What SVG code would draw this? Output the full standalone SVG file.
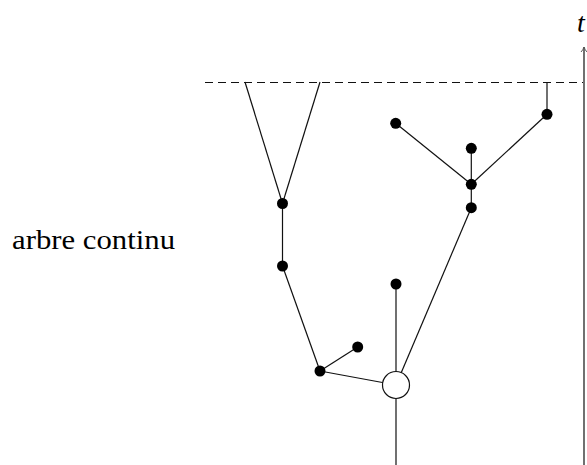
<svg xmlns="http://www.w3.org/2000/svg" width="587" height="465" viewBox="0 0 587 465">
<style>
.e{stroke:#111;stroke-width:1.2;fill:none}
.d{fill:#000}
.lbl{font-family:"Liberation Serif",serif;font-size:27px;fill:#000}
</style>
<defs>
<marker id="ah" markerWidth="10" markerHeight="10" refX="5" refY="1" orient="auto-start-reverse" markerUnits="userSpaceOnUse" viewBox="0 0 10 10">
<path d="M2,5 Q4,3 5,1 Q6,3 8,5" fill="none" stroke="#555" stroke-width="1"/>
</marker>
</defs>
<rect width="587" height="465" fill="#fff"/>
<g id="connectors">
<line class="e" x1="205" y1="82.5" x2="583" y2="82.5" stroke-dasharray="8,5"/>
<line class="e" x1="584" y1="465" x2="584" y2="47" stroke="#666" stroke-width="1.4"/>
<path d="M581,52 Q583,50 584,47 Q585,50 587,52" fill="none" stroke="#555" stroke-width="1"/>
<line class="e" x1="245" y1="82" x2="282.5" y2="203.5"/>
<line class="e" x1="320" y1="82" x2="282.5" y2="203.5"/>
<line class="e" x1="282.5" y1="203.5" x2="282.5" y2="266"/>
<line class="e" x1="282.5" y1="266" x2="320" y2="371"/>
<line class="e" x1="320" y1="371" x2="357.7" y2="347"/>
<line class="e" x1="320" y1="371" x2="396" y2="385"/>
<line class="e" x1="396" y1="284" x2="396" y2="385"/>
<line class="e" x1="396" y1="385" x2="471.3" y2="207.7"/>
<line class="e" x1="396" y1="385" x2="396" y2="465"/>
<line class="e" x1="471.3" y1="207.7" x2="471.3" y2="148.3"/>
<line class="e" x1="471.3" y1="184.3" x2="395.7" y2="123.3"/>
<line class="e" x1="471.3" y1="184.3" x2="547" y2="114.3"/>
<line class="e" x1="547" y1="114.3" x2="547" y2="82"/>
</g>
<g id="n1"><circle class="d" cx="282.5" cy="203.5" r="5.5"/></g>
<g id="n2"><circle class="d" cx="282.5" cy="266" r="5.5"/></g>
<g id="n3"><circle class="d" cx="320" cy="371" r="5.5"/></g>
<g id="n4"><circle class="d" cx="357.7" cy="347" r="5.5"/></g>
<g id="n5"><circle class="d" cx="396" cy="284" r="5.5"/></g>
<g id="root"><circle cx="396" cy="385" r="13.5" fill="#fff" stroke="#111" stroke-width="1.2"/></g>
<g id="n6"><circle class="d" cx="471.3" cy="207.7" r="5.5"/></g>
<g id="n7"><circle class="d" cx="471.3" cy="184.3" r="5.5"/></g>
<g id="n8"><circle class="d" cx="471.3" cy="148.3" r="5.5"/></g>
<g id="n9"><circle class="d" cx="395.7" cy="123.3" r="5.5"/></g>
<g id="n10"><circle class="d" cx="547" cy="114.3" r="5.5"/></g>
<g id="labels">
<text class="lbl" x="12" y="249" textLength="163" lengthAdjust="spacingAndGlyphs">arbre continu</text>
<text x="577" y="32" font-family="Liberation Serif,serif" font-style="italic" font-size="28">t</text>
</g>
</svg>
